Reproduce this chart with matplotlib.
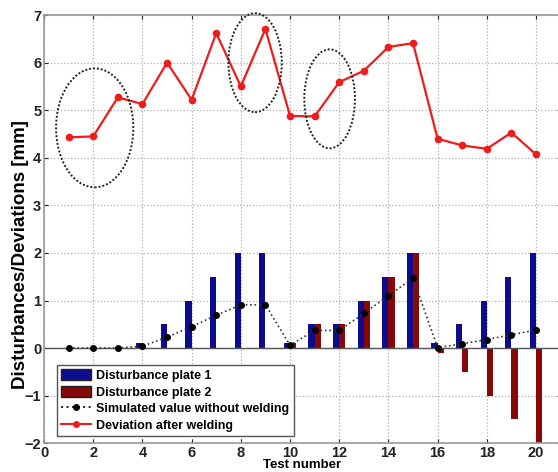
import matplotlib
matplotlib.use("Agg")
import matplotlib.pyplot as plt
from matplotlib.patches import Ellipse, Patch
from matplotlib.lines import Line2D
import numpy as np

tests = list(range(1, 21))
plate1 = [0, 0, 0, 0.1, 0.5, 1, 1.5, 2, 2, 0.1, 0.5, 0.5, 1, 1.5, 2, 0.1, 0.5, 1, 1.5, 2]
plate2 = [0, 0, 0, 0, 0, 0, 0, 0, 0, 0.1, 0.5, 0.5, 1, 1.5, 2, -0.1, -0.5, -1, -1.5, -2]
simulated = [0, 0, 0, 0.04, 0.23, 0.45, 0.69, 0.91, 0.91, 0.06, 0.37, 0.37, 0.73, 1.1, 1.47,
             0.01, 0.09, 0.18, 0.28, 0.38]
deviation = [4.43, 4.45, 5.27, 5.13, 6.0, 5.22, 6.62, 5.5, 6.71, 4.88, 4.87, 5.59, 5.83,
             6.33, 6.41, 4.4, 4.26, 4.19, 4.53, 4.07]
ellipses = [(2.06, 4.63, 3.14, 2.5), (8.58, 6.0, 2.17, 2.08), (11.61, 5.24, 2.06, 2.08)]
xticks = [0, 2, 4, 6, 8, 10, 12, 14, 16, 18, 20]
yticks = [-2, -1, 0, 1, 2, 3, 4, 5, 6, 7]

plt.rcParams['font.family'] = ['Liberation Sans', 'DejaVu Sans']
plt.rcParams['font.weight'] = 'bold'

fig = plt.figure(figsize=(5.58, 4.72), dpi=100)
ax = fig.add_axes([0.0789, 0.061, 0.9258, 0.907])

x = np.array(tests)
w = 0.25
blue = '#0c0c8e'
dred = '#860808'
ax.bar(x - w / 2, plate1, width=w, color=blue, zorder=2)
ax.bar(x + w / 2, plate2, width=w, color=dred, zorder=2)
ax.axhline(0, color='#555555', lw=1.0, zorder=2.5)
ax.plot(x, simulated, ':', color='#333333', lw=1.2, marker='o', ms=4,
        mfc='black', mec='black', zorder=3)
ax.plot(x, deviation, '-', color='#ee1c1c', lw=1.6, marker='o', ms=4.5,
        mfc='#ee1c1c', mec='#ee1c1c', zorder=3)

for cx, cy, ew, eh in ellipses:
    ax.add_patch(Ellipse((cx, cy), ew, eh, fill=False, ls=(0, (1, 1)),
                         ec='#222222', lw=1.4, clip_on=False, zorder=4))

ax.set_xlim(0, 21)
ax.set_ylim(-2, 7)
ax.set_xticks(xticks)
ax.set_yticks(yticks)
ax.tick_params(labelsize=10.5, colors='#222222', length=3, direction='in', pad=2,
               right=True, top=True)
for lab in ax.get_xticklabels() + ax.get_yticklabels():
    lab.set_fontweight('bold')
ax.grid(True, ls=':', color='#b0b0b0', lw=0.9, zorder=0)
for s in ax.spines.values():
    s.set_color('#999999')
    s.set_linewidth(1.2)

ax.set_xlabel('Test number', fontsize=9.5, fontweight='bold', labelpad=-1)
ax.set_ylabel('Disturbances/Deviations [mm]', fontsize=13.5, fontweight='bold',
              va='center')
ax.yaxis.set_label_coords(-0.046, 0.44)

handles = [Patch(facecolor=blue, edgecolor='#222222'),
           Patch(facecolor=dred, edgecolor='#222222'),
           Line2D([], [], ls=':', color='#333333', marker='o', ms=4, mfc='black', mec='black'),
           Line2D([], [], ls='-', color='#ee1c1c', marker='o', ms=4, mfc='#ee1c1c', mec='#ee1c1c')]
labels = ['Disturbance plate 1', 'Disturbance plate 2',
          'Simulated value without welding', 'Deviation after welding']
leg = ax.legend(handles, labels, loc='lower left', bbox_to_anchor=(0.0246, 0.016),
                prop={'size': 9, 'weight': 'bold'}, fancybox=False, framealpha=1,
                edgecolor='#555555', labelspacing=0.3, handlelength=2.4, handleheight=1.0,
                handletextpad=0.4, borderpad=0.35, borderaxespad=0)
leg.get_frame().set_linewidth(1.0)

fig.savefig('out.png', dpi=100)
